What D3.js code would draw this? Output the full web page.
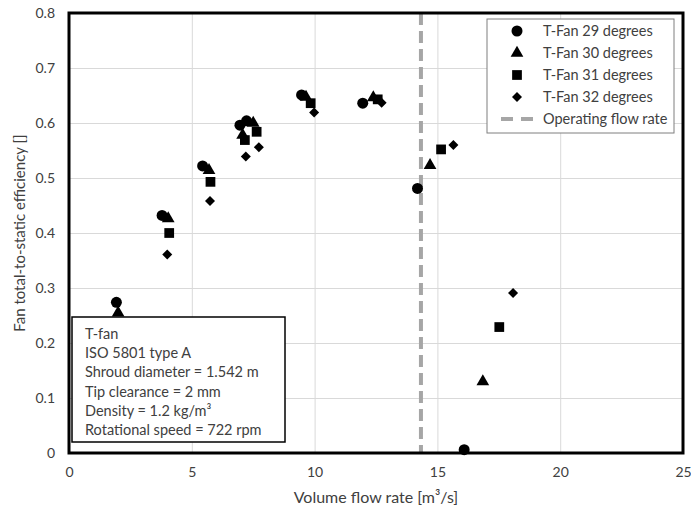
<!DOCTYPE html>
<html>
<head>
<meta charset="utf-8">
<script src="https://cdn.jsdelivr.net/npm/d3@7"></script>
<style>
  body { margin: 0; background: #fff; }
  svg text { font-family: Lato, "Open Sans", sans-serif; fill: #404040; }
</style>
</head>
<body>
<svg width="691" height="513"></svg>
<script>
// flow rate [m3/s] and efficiency [-]
var fan29X = [1.93, 3.79, 5.44, 6.96, 7.23, 9.47, 11.96, 14.19, 16.09];
var fan29Y = [0.274, 0.432, 0.522, 0.596, 0.604, 0.651, 0.636, 0.481, 0.006];
var fan30X = [2.0, 4.04, 5.70, 7.07, 7.50, 9.65, 12.39, 14.70, 16.85];
var fan30Y = [0.255, 0.426, 0.514, 0.578, 0.600, 0.647, 0.646, 0.523, 0.130];
var fan31X = [4.08, 5.76, 7.16, 7.64, 9.84, 12.57, 15.15, 17.52];
var fan31Y = [0.400, 0.493, 0.569, 0.584, 0.636, 0.643, 0.552, 0.229];
var fan32X = [4.00, 5.74, 7.20, 7.73, 9.98, 12.73, 15.65, 18.08];
var fan32Y = [0.361, 0.458, 0.539, 0.556, 0.619, 0.637, 0.560, 0.291];
var operatingFlow = 14.33;

var seriesNames = ["T-Fan 29 degrees", "T-Fan 30 degrees", "T-Fan 31 degrees", "T-Fan 32 degrees"];
var xTicks = [0, 5, 10, 15, 20, 25];
var yTicks = [0, 0.1, 0.2, 0.3, 0.4, 0.5, 0.6, 0.7, 0.8];
var infoLines = ["T-fan", "ISO 5801 type A", "Shroud diameter = 1.542 m", "Tip clearance = 2 mm",
                 "Density = 1.2 kg/m\u00b3", "Rotational speed = 722 rpm"];

var svg = d3.select("svg");
var margin = { top: 13, right: 8, bottom: 60, left: 69 };
var width = 691, height = 513;

var xScale = d3.scaleLinear().domain([0, 25]).range([margin.left, width - margin.right]);
var yScale = d3.scaleLinear().domain([0, 0.8]).range([height - margin.bottom, margin.top]);

// grid
svg.append("g")
   .attr("transform", "translate(0," + (height - margin.bottom) + ")")
   .call(d3.axisBottom(xScale).tickValues(xTicks).tickSize(-(yScale(0) - yScale(0.8))).tickFormat(""))
   .call(g => g.select(".domain").remove())
   .call(g => g.selectAll("line").attr("stroke", "#d9d9d9"));

svg.append("g")
   .attr("transform", "translate(" + margin.left + ",0)")
   .call(d3.axisLeft(yScale).tickValues(yTicks).tickSize(-(xScale(25) - xScale(0))).tickFormat(""))
   .call(g => g.select(".domain").remove())
   .call(g => g.selectAll("line").attr("stroke", "#d9d9d9"));

// tick labels
svg.append("g")
   .attr("transform", "translate(0," + (height - margin.bottom) + ")")
   .call(d3.axisBottom(xScale).tickValues(xTicks).tickSize(0).tickPadding(14).tickFormat(d3.format("d")))
   .call(g => g.select(".domain").remove())
   .call(g => g.selectAll("text").attr("font-size", 14).style("font-family", "Lato, sans-serif"));

svg.append("g")
   .attr("transform", "translate(" + margin.left + ",0)")
   .call(d3.axisLeft(yScale).tickValues(yTicks).tickSize(0).tickPadding(14).tickFormat(d => d === 0 ? "0" : d3.format(".1f")(d)))
   .call(g => g.select(".domain").remove())
   .call(g => g.selectAll("text").attr("font-size", 14).style("font-family", "Lato, sans-serif"));

// operating flow rate
svg.append("line")
   .attr("x1", xScale(operatingFlow)).attr("x2", xScale(operatingFlow))
   .attr("y1", yScale(0.8)).attr("y2", yScale(0))
   .attr("stroke", "#a6a6a6").attr("stroke-width", 4)
   .attr("stroke-dasharray", "12,6");

// points
var symbols = [d3.symbolCircle, d3.symbolTriangle, d3.symbolSquare, d3.symbolSquare];
var sizes = [95, 70, 95, 50];
var rotations = [0, 0, 0, 45];
var xs = [fan29X, fan30X, fan31X, fan32X];
var ys = [fan29Y, fan30Y, fan31Y, fan32Y];

xs.forEach(function(xArr, i) {
  var pts = xArr.map((x, j) => ({ x: x, y: ys[i][j] }));
  svg.append("g").selectAll("path")
     .data(pts)
     .enter()
     .append("path")
       .attr("d", d3.symbol().type(symbols[i]).size(sizes[i]))
       .attr("transform", d => "translate(" + xScale(d.x) + "," + yScale(d.y) + ") rotate(" + rotations[i] + ")")
       .attr("fill", "#000");
});

// plot frame
svg.append("rect")
   .attr("x", xScale(0)).attr("y", yScale(0.8))
   .attr("width", xScale(25) - xScale(0)).attr("height", yScale(0) - yScale(0.8))
   .attr("fill", "none").attr("stroke", "#000").attr("stroke-width", 3);

// info box
var info = svg.append("g").attr("transform", "translate(72,317)");
info.append("rect")
    .attr("width", 213).attr("height", 125)
    .attr("fill", "#fff").attr("stroke", "#000").attr("stroke-width", 1.5);
info.selectAll("text")
    .data(infoLines)
    .enter()
    .append("text")
      .attr("x", 13)
      .attr("y", (d, i) => 22 + i * 19.2)
      .attr("font-size", 14.5)
      .attr("fill", "#404040")
      .text(d => d);

// legend
var legend = svg.append("g").attr("transform", "translate(487,19)");
legend.append("rect")
      .attr("width", 187).attr("height", 114)
      .attr("fill", "#fff").attr("stroke", "#7f7f7f").attr("stroke-width", 1);
seriesNames.forEach(function(name, i) {
  var cy = 12 + i * 22;
  legend.append("path")
        .attr("d", d3.symbol().type(symbols[i]).size(sizes[i]))
        .attr("transform", "translate(30," + cy + ") rotate(" + rotations[i] + ")")
        .attr("fill", "#000");
  legend.append("text")
        .attr("x", 56).attr("y", cy + 5)
        .attr("font-size", 14.5)
        .text(name);
});
legend.append("line")
      .attr("x1", 14).attr("x2", 46)
      .attr("y1", 100).attr("y2", 100)
      .attr("stroke", "#a6a6a6").attr("stroke-width", 4)
      .attr("stroke-dasharray", "12,8");
legend.append("text")
      .attr("x", 56).attr("y", 105)
      .attr("font-size", 14.5)
      .text("Operating flow rate");

// axis titles
svg.append("text")
   .attr("x", xScale(12.5)).attr("y", 503)
   .attr("text-anchor", "middle")
   .attr("font-size", 16)
   .text("Volume flow rate [m\u00b3/s]");

svg.append("text")
   .attr("transform", "translate(25," + yScale(0.4) + ") rotate(-90)")
   .attr("text-anchor", "middle")
   .attr("font-size", 15)
   .text("Fan total-to-static efficiency []");
</script>
</body>
</html>
